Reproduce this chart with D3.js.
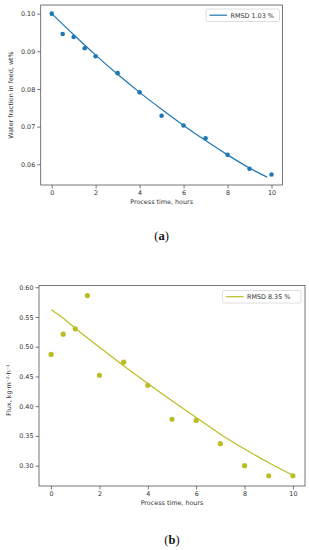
<!DOCTYPE html>
<html>
<head>
<meta charset="utf-8">
<script src="https://cdn.jsdelivr.net/npm/d3@7"></script>
<style>
  body { margin: 0; background: #fff; }
  svg { display: block; font-family: "DejaVu Sans", sans-serif; }
</style>
</head>
<body>
<div id="chart"></div>
<script>
// 측정 시간 (hours)
const hours = [0, 0.5, 1, 1.5, 2, 3, 4, 5, 6, 7, 8, 9, 10];
// (a) 원료 중 수분 분율
const waterFraction = [0.1000, 0.0946, 0.0938, 0.0908, 0.0887, 0.0842, 0.0791, 0.0729, 0.0703, 0.0669, 0.0625, 0.0588, 0.0573];
// (b) 투과 유속
const flux = [0.487, 0.521, 0.530, 0.586, 0.452, 0.474, 0.435, 0.378, 0.376, 0.337, 0.300, 0.283, 0.283];

// 모델 곡선
const fitHoursA = [0, 1, 2, 3, 4, 5, 6, 7, 8, 9, 9.8];
const fitWaterA = [0.1000, 0.0944, 0.0890, 0.0839, 0.0791, 0.0746, 0.0703, 0.0663, 0.0625, 0.0590, 0.0566];
const fitHoursB = [0, 0.5, 1, 2, 3, 4, 5, 6, 7, 8, 9, 10];
const fitFluxB = [0.562, 0.548, 0.531, 0.499, 0.468, 0.438, 0.409, 0.381, 0.353, 0.328, 0.305, 0.284];

const xTicks = [0, 2, 4, 6, 8, 10];
const yTicksA = [0.06, 0.07, 0.08, 0.09, 0.10];
const yTicksB = [0.30, 0.35, 0.40, 0.45, 0.50, 0.55, 0.60];

const W = 309, H = 550;
const svg = d3.select("#chart").append("svg")
	.attr("width", W)
	.attr("height", H);

const textColor = "#333";
const spineColor = "#555";

function drawPanel(cfg) {
	const x = d3.scaleLinear().domain([-0.5, 10.5]).range([cfg.left, cfg.right]);
	const y = d3.scaleLinear().domain(cfg.yDomain).range([cfg.bottom, cfg.top]);
	const g = svg.append("g");

	// 모델 곡선
	const line = d3.line()
		.x(d => x(d[0]))
		.y(d => y(d[1]))
		.curve(d3.curveMonotoneX);
	g.append("path")
		.datum(cfg.fitX.map((h, i) => [h, cfg.fitY[i]]))
		.attr("fill", "none")
		.attr("stroke", cfg.color)
		.attr("stroke-width", 1.2)
		.attr("d", line);

	// 측정 점
	g.selectAll("circle")
		.data(cfg.pointsX.map((h, i) => [h, cfg.pointsY[i]]))
		.join("circle")
		.attr("cx", d => x(d[0]))
		.attr("cy", d => y(d[1]))
		.attr("r", cfg.r)
		.attr("fill", cfg.color);

	// 축
	const xAxis = g.append("g")
		.attr("transform", `translate(0,${cfg.bottom})`)
		.call(d3.axisBottom(x).tickValues(xTicks).tickSize(3.5).tickPadding(2).tickFormat(d3.format("d")));
	const yAxis = g.append("g")
		.attr("transform", `translate(${cfg.left},0)`)
		.call(d3.axisLeft(y).tickValues(cfg.yTicks).tickSize(3.5).tickPadding(2).tickFormat(d3.format(".2f")));
	[xAxis, yAxis].forEach(a => {
		a.select(".domain").remove();
		a.selectAll("line").attr("stroke", spineColor).attr("stroke-width", 0.8);
		a.selectAll("text").attr("fill", textColor).style("font-size", "6.4px").style("font-family", "DejaVu Sans");
	});

	// 테두리
	g.append("rect")
		.attr("x", cfg.left)
		.attr("y", cfg.top)
		.attr("width", cfg.right - cfg.left)
		.attr("height", cfg.bottom - cfg.top)
		.attr("fill", "none")
		.attr("stroke", spineColor)
		.attr("stroke-width", 0.8);

	// 축 제목
	g.append("text")
		.attr("x", (cfg.left + cfg.right) / 2 - 0)
		.attr("y", cfg.bottom + 18.5)
		.attr("text-anchor", "middle")
		.attr("fill", textColor)
		.style("font-size", "6.4px")
		.text("Process time, hours");
	g.append("text")
		.attr("transform", `translate(${cfg.yTitleX},${cfg.yTitleY}) rotate(-90)`)
		.attr("text-anchor", "middle")
		.attr("fill", textColor)
		.style("font-size", "6.4px")
		.text(cfg.yTitle);

	// 범례
	const lg = cfg.legend;
	g.append("rect")
		.attr("x", lg.x)
		.attr("y", lg.y)
		.attr("width", lg.w)
		.attr("height", 12.5)
		.attr("rx", 1.5)
		.attr("fill", "#fff")
		.attr("stroke", "#d6d6d6")
		.attr("stroke-width", 0.8);
	g.append("line")
		.attr("x1", lg.x + 3.5)
		.attr("x2", lg.x + 21)
		.attr("y1", lg.y + 6.2)
		.attr("y2", lg.y + 6.2)
		.attr("stroke", cfg.color)
		.attr("stroke-width", 1.2);
	g.append("text")
		.attr("x", lg.x + 24.5)
		.attr("y", lg.y + 8.5)
		.attr("fill", textColor)
		.style("font-size", "6.4px")
		.text(cfg.legendText);

	// 패널 라벨
	const lab = svg.append("text")
		.attr("x", (cfg.left + cfg.right) / 2 - 0)
		.attr("y", cfg.labelY)
		.attr("text-anchor", "middle")
		.attr("fill", "#111")
		.style("font-family", "'Liberation Serif', serif")
		.style("font-size", "12.5px");
	lab.append("tspan").text("(");
	lab.append("tspan").style("font-weight", "bold").text(cfg.label);
	lab.append("tspan").text(")");
}

drawPanel({
	left: 40.7, right: 282.5, top: 5, bottom: 185,
	yDomain: [0.0545, 0.1023],
	yTicks: yTicksA,
	pointsX: hours, pointsY: waterFraction,
	fitX: fitHoursA, fitY: fitWaterA,
	color: "#1f77b4", r: 2.3,
	yTitle: "Water fraction in feed, wt%", yTitleX: 13, yTitleY: 95,
	legend: { x: 206, y: 9, w: 73.5 },
	legendText: "RMSD 1.03 %",
	label: "a", labelY: 240
});

drawPanel({
	left: 39, right: 305, top: 285.5, bottom: 486,
	yDomain: [0.2658, 0.6029],
	yTicks: yTicksB,
	pointsX: hours, pointsY: flux,
	fitX: fitHoursB, fitY: fitFluxB,
	color: "#bcbd22", r: 2.6,
	yTitle: "Flux, kg·m⁻²·h⁻¹", yTitleX: 10.5, yTitleY: 390,
	legend: { x: 222.5, y: 290.5, w: 78.5 },
	legendText: "RMSD 8.35 %",
	label: "b", labelY: 543.5
});
</script>
</body>
</html>
